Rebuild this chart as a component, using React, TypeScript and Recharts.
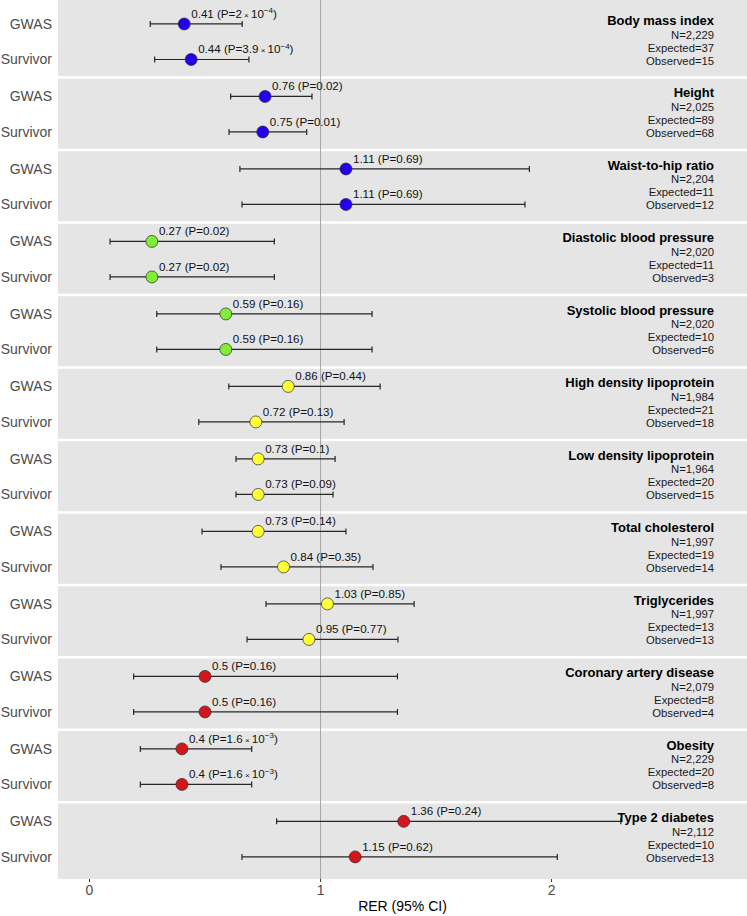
import React from "react"
import {
  ComposedChart,
  Scatter,
  ErrorBar,
  XAxis,
  YAxis,
  ReferenceArea,
  ReferenceLine,
} from "recharts"

// traits, one facet each
const traits = [
  "Body mass index",
  "Height",
  "Waist-to-hip ratio",
  "Diastolic blood pressure",
  "Systolic blood pressure",
  "High density lipoprotein",
  "Low density lipoprotein",
  "Total cholesterol",
  "Triglycerides",
  "Coronary artery disease",
  "Obesity",
  "Type 2 diabetes",
]
const traitGroup = ["anthro", "anthro", "anthro", "bp", "bp", "lipid", "lipid", "lipid", "lipid", "disease", "disease", "disease"]

const nSubjects = [2229, 2025, 2204, 2020, 2020, 1984, 1964, 1997, 1997, 2079, 2229, 2112]
const expected = [37, 89, 11, 11, 10, 21, 20, 19, 13, 8, 20, 10]
const observed = [15, 68, 12, 3, 6, 18, 15, 14, 13, 4, 8, 13]

// GWAS rows
const rerGwas = [0.41, 0.76, 1.11, 0.27, 0.59, 0.86, 0.73, 0.73, 1.03, 0.5, 0.4, 1.36]
const loGwas = [0.263, 0.611, 0.651, 0.089, 0.291, 0.603, 0.634, 0.487, 0.764, 0.191, 0.22, 0.81]
const hiGwas = [0.661, 0.963, 1.904, 0.8, 1.223, 1.258, 1.063, 1.11, 1.405, 1.333, 0.702, 2.3]
const pGwas = [2e-4, 0.02, 0.69, 0.02, 0.16, 0.44, 0.1, 0.14, 0.85, 0.16, 1.6e-3, 0.24]

// Survivor rows
const rerSurv = [0.44, 0.75, 1.11, 0.27, 0.59, 0.72, 0.73, 0.84, 0.95, 0.5, 0.4, 1.15]
const loSurv = [0.282, 0.604, 0.66, 0.089, 0.291, 0.473, 0.634, 0.569, 0.682, 0.191, 0.22, 0.66]
const hiSurv = [0.69, 0.94, 1.885, 0.8, 1.223, 1.102, 1.054, 1.227, 1.335, 1.333, 0.702, 2.025]
const pSurv = [3.9e-4, 0.01, 0.69, 0.02, 0.16, 0.13, 0.09, 0.35, 0.77, 0.16, 1.6e-3, 0.62]

const rowLabels = ["GWAS", "Survivor"]
const xTicks = [0, 1, 2]

const groupColor: Record<string, string> = {
  anthro: "#2200ee",
  bp: "#80ee34",
  lipid: "#ffff38",
  disease: "#d2161c",
}

const FONT = "'Liberation Sans', Arial, Helvetica, sans-serif"

// facet layout in "facet units" (one unit = one facet + gap)
const FACET_H = 0.9655
const Y_MIN = -0.0855
const Y_MAX = 12.04
const ROW_POS = [0.245, 0.735]
const ANN_X = 2.7035
const ANN_POS = 0.258

const rows = traits.flatMap((_, k) => {
  const color = groupColor[traitGroup[k]]
  return [
    { x: rerGwas[k], y: k + ROW_POS[0], err: [rerGwas[k] - loGwas[k], hiGwas[k] - rerGwas[k]], p: pGwas[k], color },
    { x: rerSurv[k], y: k + ROW_POS[1], err: [rerSurv[k] - loSurv[k], hiSurv[k] - rerSurv[k]], p: pSurv[k], color },
  ]
})

const annotations = traits.map((name, k) => ({
  x: ANN_X,
  y: k + ANN_POS,
  name,
  n: nSubjects[k],
  e: expected[k],
  o: observed[k],
}))

const yTicks = traits.flatMap((_, k) => ROW_POS.map((r) => k + r))

function PValue({ p }: { p: number }) {
  if (p >= 0.005) return <tspan>{String(p)}</tspan>
  const exp = Math.floor(Math.log10(p))
  const mant = Number((p / Math.pow(10, exp)).toFixed(1))
  return (
    <>
      <tspan>{String(mant)}</tspan>
      <tspan fontSize={8}> × </tspan>
      <tspan>10</tspan>
      <tspan dy={-4.5} fontSize={8}>{"−" + Math.abs(exp)}</tspan>
      <tspan dy={4.5}>)</tspan>
    </>
  )
}

function PointShape(props: any) {
  const { cx, cy, payload } = props
  if (cx == null || cy == null) return null
  const sci = payload.p < 0.005
  return (
    <g>
      <circle cx={cx} cy={cy} r={6} fill={payload.color} stroke="#2b2b2b" strokeWidth={0.7} />
      <text x={cx + 7} y={cy - 6} fontFamily={FONT} fontSize={11.6} fill="#111">
        <tspan>{String(payload.x) + " (P="}</tspan>
        <PValue p={payload.p} />
        {!sci && <tspan>)</tspan>}
      </text>
    </g>
  )
}

function StripText(props: any) {
  const { cx, cy, payload } = props
  if (cx == null || cy == null) return null
  const common = { x: cx, textAnchor: "end" as const, fontFamily: FONT }
  return (
    <g>
      <text {...common} y={cy} fontSize={13} fontWeight="bold" fill="#000">
        {payload.name}
      </text>
      <text {...common} y={cy + 13.6} fontSize={11.3} fill="#1a1a1a">
        {"N=" + payload.n.toLocaleString("en-US")}
      </text>
      <text {...common} y={cy + 26.6} fontSize={11.3} fill="#1a1a1a">
        {"Expected=" + payload.e}
      </text>
      <text {...common} y={cy + 39.6} fontSize={11.3} fill="#1a1a1a">
        {"Observed=" + payload.o}
      </text>
    </g>
  )
}

export default function App() {
  return (
    <div style={{ position: "absolute", left: 0, top: 0, background: "#fff" }}>
      <ComposedChart width={747} height={916} margin={{ top: 0, right: 0, bottom: 0, left: 0 }}>
        <XAxis
          type="number"
          dataKey="x"
          domain={[-0.1364, 2.846]}
          allowDataOverflow
          ticks={xTicks}
          height={37}
          axisLine={false}
          tickSize={3}
          tickMargin={3}
          tickLine={{ stroke: "#333333" }}
          tick={{ fill: "#4d4d4d", fontSize: 14, fontFamily: FONT }}
          label={{
            value: "RER (95% CI)",
            position: "insideBottom",
            offset: 5,
            fill: "#000",
            fontSize: 14,
            fontFamily: FONT,
          }}
        />
        <YAxis
          type="number"
          dataKey="y"
          reversed
          domain={[Y_MIN, Y_MAX]}
          allowDataOverflow
          ticks={yTicks}
          interval={0}
          width={58}
          axisLine={false}
          tickLine={false}
          tickSize={6}
          tickMargin={0}
          tickFormatter={(_v: number, i: number) => rowLabels[i % 2]}
          tick={{ fill: "#4d4d4d", fontSize: 14, fontFamily: FONT }}
        />
        {traits.map((t, k) => (
          <ReferenceArea
            key={t}
            y1={k === 0 ? Y_MIN : k}
            y2={k === traits.length - 1 ? Y_MAX : k + FACET_H}
            fill="#e5e5e5"
            fillOpacity={1}
            stroke="none"
            ifOverflow="hidden"
          />
        ))}
        <ReferenceLine x={1} stroke="#a6a6a6" strokeWidth={1} />
        <Scatter data={rows} shape={<PointShape />} isAnimationActive={false}>
          <ErrorBar dataKey="err" direction="x" width={3} stroke="#262626" strokeWidth={1.2} isAnimationActive={false} />
        </Scatter>
        <Scatter data={annotations} shape={<StripText />} isAnimationActive={false} />
      </ComposedChart>
    </div>
  )
}
